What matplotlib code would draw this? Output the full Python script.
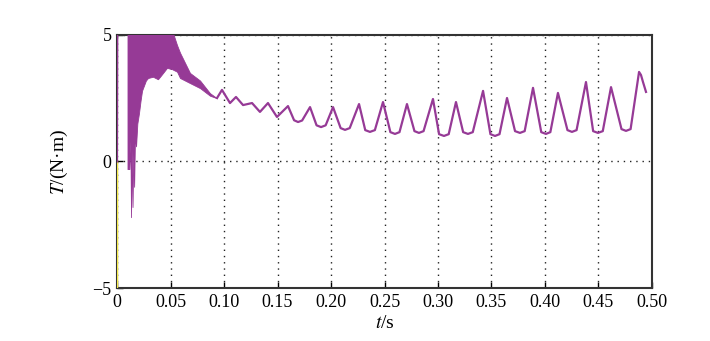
import numpy as np
import matplotlib
matplotlib.use("Agg")
import matplotlib.pyplot as plt

plt.rcParams['font.family'] = ['Liberation Serif', 'DejaVu Serif']
plt.rcParams['mathtext.fontset'] = 'stix'

# start-up transient: dense band (upper / lower envelope)
band_t = [0.0098, 0.0115, 0.0125, 0.0131, 0.0137, 0.0145, 0.0152, 0.0160, 0.0168,
          0.0178, 0.0190, 0.0205, 0.0220, 0.0234, 0.0252, 0.0270, 0.0290, 0.0336,
          0.0383, 0.0421, 0.0467, 0.0514, 0.0561, 0.0589, 0.0682, 0.0776, 0.0869, 0.0935]
band_hi = [6.0, 6.0, 6.0, 6.0, 6.0, 6.0, 6.0, 6.0, 6.0,
           6.0, 6.0, 6.0, 6.0, 6.0, 6.0, 6.0, 6.0, 6.0,
           6.0, 6.0, 6.0, 5.2, 4.6, 4.3, 3.5, 3.2, 2.7, 2.5]
band_lo = [-0.3, -0.3, 0.8, -2.2, 0.5, -1.8, 0.3, -1.0, 1.0,
           0.6, 1.5, 1.9, 2.4, 2.8, 3.0, 3.2, 3.3, 3.35,
           3.25, 3.45, 3.7, 3.65, 3.55, 3.3, 3.1, 2.9, 2.6, 2.5]

# first instant at t = 0
start_t = [0.0, 0.0, 0.0003]
start_T = [0.0, 0.6, 6.0]

# steady part: peaks, troughs and trough shoulders
osc_t = [0.0935, 0.0981, 0.1056, 0.1112, 0.1178, 0.1262, 0.1336, 0.1411, 0.1495,
         0.1598, 0.1655, 0.1692, 0.1730, 0.1804, 0.1865, 0.1907, 0.1950,
         0.2019, 0.2090, 0.2131, 0.2175, 0.2262, 0.2320, 0.2364, 0.2410,
         0.2486, 0.2555, 0.2598, 0.2640, 0.2710, 0.2780, 0.2822, 0.2865,
         0.2953, 0.3010, 0.3056, 0.3100, 0.3168, 0.3235, 0.3280, 0.3325,
         0.3421, 0.3490, 0.3533, 0.3575, 0.3645, 0.3720, 0.3766, 0.3810,
         0.3888, 0.3965, 0.4009, 0.4050, 0.4121, 0.4210, 0.4252, 0.4295,
         0.4383, 0.4450, 0.4495, 0.4540, 0.4617, 0.4715, 0.4757, 0.4800,
         0.4879, 0.4897, 0.4916, 0.4944]
osc_T = [2.51, 2.83, 2.31, 2.55, 2.23, 2.31, 1.96, 2.31, 1.76,
         2.19, 1.63, 1.56, 1.62, 2.15, 1.43, 1.36, 1.43,
         2.15, 1.32, 1.25, 1.32, 2.27, 1.24, 1.17, 1.24,
         2.35, 1.16, 1.09, 1.16, 2.27, 1.20, 1.13, 1.20,
         2.47, 1.08, 1.01, 1.08, 2.35, 1.16, 1.09, 1.16,
         2.79, 1.08, 1.01, 1.08, 2.51, 1.20, 1.13, 1.20,
         2.91, 1.16, 1.09, 1.16, 2.71, 1.24, 1.17, 1.24,
         3.14, 1.20, 1.13, 1.20, 2.94, 1.28, 1.21, 1.28,
         3.54, 3.42, 3.14, 2.75]

# yellow trace hidden under the left edge
ref_t = [0.0, 0.0]
ref_T = [-5.0, 0.0]

xticks = [0, 0.05, 0.10, 0.15, 0.20, 0.25, 0.30, 0.35, 0.40, 0.45, 0.50]
xlabels = ['0', '0.05', '0.10', '0.15', '0.20', '0.25', '0.30', '0.35', '0.40', '0.45', '0.50']
yticks = [-5, 0, 5]

purple = '#963a96'

fig = plt.figure(figsize=(7.1, 3.41), dpi=100)
ax = fig.add_axes([0.1648, 0.1554, 0.7535, 0.742])

ax.plot(ref_t, ref_T, color='#f2e84a', lw=1.0, zorder=4)
ax.plot(start_t, start_T, color=purple, lw=1.5, zorder=5)
ax.fill_between(band_t, band_lo, band_hi, color=purple, lw=0.6, edgecolor=purple, zorder=3)
ax.plot(osc_t, osc_T, color=purple, lw=1.6, zorder=3)

ax.set_xlim(0, 0.5)
ax.set_ylim(-5, 5)
ax.set_xticks(xticks)
ax.set_xticklabels(xlabels)
ax.set_yticks(yticks)
ax.set_yticklabels(['\u22125', '0', '5'])
ax.tick_params(direction='in', length=4, width=1, labelsize=13, pad=4)

ax.grid(True, color='#222222', linestyle=(0, (1, 3.5)), linewidth=1.0)
for s in ax.spines.values():
    s.set_color('#333333')
    s.set_linewidth(1.5)

ax.set_xlabel(r'$t$/s', fontsize=14, labelpad=3)
ax.set_ylabel(r'$T$/(N·m)', fontsize=14, labelpad=16)

fig.savefig('out.png', dpi=100)
